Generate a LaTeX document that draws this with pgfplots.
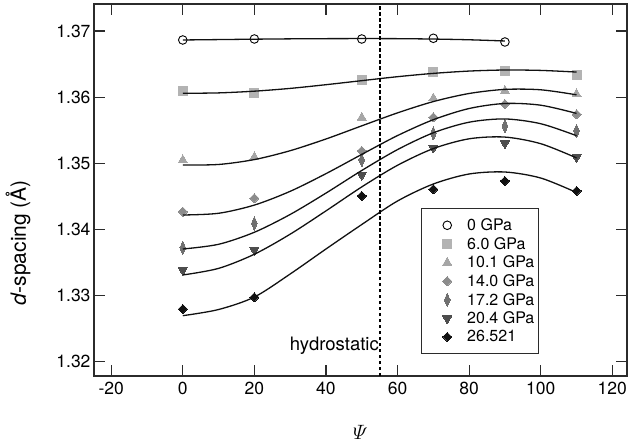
\documentclass[border=0pt]{standalone}
\usepackage{fontspec}
\setmainfont{TeX Gyre Heros}
\usepackage{pgfplots}
\pgfplotsset{compat=1.18}
\definecolor{axcol}{HTML}{2B2B2B}
\definecolor{sqgray}{HTML}{B3B3B3}
\definecolor{trigray}{HTML}{A6A6A6}
\definecolor{diagray}{HTML}{8C8C8C}
\definecolor{thingray}{HTML}{707070}
\definecolor{dtrigray}{HTML}{4D4D4D}
\definecolor{blk}{HTML}{111111}
\begin{document}
\begin{tikzpicture}
\useasboundingbox (0pt,0pt) rectangle (628pt,447pt);
\begin{axis}[
  at={(94pt,71pt)}, anchor=south west,
  scale only axis, width=533pt, height=372pt,
  clip mode=individual,
  xmin=-24.8, xmax=124.1, ymin=1.31784, ymax=1.37408,
  xtick={-20,0,20,40,60,80,100,120},
  ytick={1.32,1.33,1.34,1.35,1.36,1.37},
  tick align=inside, major tick length=11pt,
  axis line style={draw=axcol, line width=1.2pt},
  tick style={draw=axcol, line width=1.1pt},
  tick label style={font=\fontsize{17.5}{18}\selectfont, text=black},
  /pgf/number format/assume math mode=true,
  yticklabel style={/pgf/number format/.cd, fixed, fixed zerofill, precision=2},
  xticklabel style={yshift=-3pt},
  legend cell align=left,
  legend image code/.code={\path[draw=none,fill=none] (0pt,-1pt) rectangle (31.7pt,1pt);
    \path[#1, draw=none, fill=none] plot[only marks] coordinates {(21.7pt,0pt)};},
  legend style={at={(0.6135,0.4516)}, anchor=north west, draw=axcol, line width=1.1pt, fill=white,
    inner xsep=4pt, inner ysep=10pt, row sep=5.2pt, column sep=10pt,
    nodes={inner sep=0pt}, font=\fontsize{16}{16}\selectfont},
]
% markers
\addplot[only marks, mark=o, mark size=4.3pt, mark options={draw=black, line width=0.9pt, fill=none}]
  coordinates {(0,1.368639) (20,1.368790) (50,1.368790) (70,1.368896) (90,1.368337)};
\addlegendentry{0 GPa}
\addplot[only marks, mark=square*, mark size=4.5pt, mark options={draw=sqgray, fill=sqgray, line width=0pt}]
  coordinates {(0,1.360974) (20,1.360671) (50,1.362592) (70,1.363846) (90,1.363952) (110,1.363347)};
\addlegendentry{6.0 GPa}
\addplot[only marks, mark=triangle*, mark size=5.2pt, mark options={draw=trigray, fill=trigray, line width=0pt}]
  coordinates {(0,1.350496) (20,1.350950) (50,1.356922) (70,1.359825) (90,1.360974) (110,1.360475)};
\addlegendentry{10.1 GPa}
\addplot[only marks, mark=square*, mark size=3.2pt, mark options={rotate=45, draw=diagray, fill=diagray, line width=0pt}]
  coordinates {(0,1.342679) (20,1.344705) (50,1.351857) (70,1.356952) (90,1.358963) (110,1.357406)};
\addlegendentry{14.0 GPa}
\addplot[only marks, mark=diamond*, mark size=6.7pt, mark options={xscale=0.56, draw=thingray, fill=thingray, line width=0pt}]
  coordinates {(0,1.337236) (20,1.340925) (50,1.350496) (70,1.354533) (90,1.355636) (110,1.354881)};
\addlegendentry{17.2 GPa}
\addplot[only marks, mark=triangle*, mark size=5.2pt, mark options={rotate=180, draw=dtrigray, fill=dtrigray, line width=0pt}]
  coordinates {(0,1.333865) (20,1.336888) (50,1.348228) (70,1.352356) (90,1.353021) (110,1.350904)};
\addlegendentry{20.4 GPa}
\addplot[only marks, mark=square*, mark size=3.2pt, mark options={rotate=45, draw=blk, fill=blk, line width=0pt}]
  coordinates {(0,1.327968) (20,1.329737) (50,1.345053) (70,1.346066) (90,1.347321) (110,1.345809)};
\addlegendentry{26.521}
% fitted curves
\addplot[forget plot, smooth, no marks, color=blk, line width=1.3pt]
  coordinates {(0,1.36864)(10,1.36870)(20,1.36876)(30,1.36881)(40,1.36884)(50,1.36885)(60,1.36884)(70,1.36878)(80,1.36867)(90,1.36849)};
\addplot[forget plot, smooth, no marks, color=blk, line width=1.3pt]
  coordinates {(0,1.36058)(10,1.36064)(20,1.36090)(30,1.36132)(40,1.36188)(50,1.36249)(60,1.36309)(70,1.36359)(80,1.36394)(90,1.36410)(100,1.36404)(110,1.36379)};
\addplot[forget plot, smooth, no marks, color=blk, line width=1.3pt]
  coordinates {(0,1.34974)(10,1.34982)(20,1.35056)(30,1.35190)(40,1.35367)(50,1.35566)(60,1.35762)(70,1.35933)(80,1.36055)(90,1.36117)(100,1.36111)(110,1.36035)};
\addplot[forget plot, smooth, no marks, color=blk, line width=1.3pt]
  coordinates {(0,1.34218)(10,1.34244)(20,1.34368)(30,1.34576)(40,1.34843)(50,1.35134)(60,1.35419)(70,1.35659)(80,1.35828)(90,1.35904)(100,1.35878)(110,1.35754)};
\addplot[forget plot, smooth, no marks, color=blk, line width=1.3pt]
  coordinates {(0,1.33704)(10,1.33775)(20,1.33957)(30,1.34226)(40,1.34549)(50,1.34891)(60,1.35207)(70,1.35461)(80,1.35621)(90,1.35670)(100,1.35598)(110,1.35417)};
\addplot[forget plot, smooth, no marks, color=blk, line width=1.3pt]
  coordinates {(0,1.33311)(10,1.33411)(20,1.33625)(30,1.33928)(40,1.34280)(50,1.34643)(60,1.34970)(70,1.35222)(80,1.35370)(90,1.35396)(100,1.35296)(110,1.35081)};
\addplot[forget plot, smooth, no marks, color=blk, line width=1.3pt]
  coordinates {(0,1.32696)(10,1.32789)(20,1.32978)(30,1.33326)(40,1.33704)(50,1.34074)(60,1.34430)(70,1.34687)(80,1.34838)(90,1.34868)(100,1.34777)(110,1.34558)};
% hydrostatic line
\addplot[forget plot, no marks, color=black, line width=1.8pt, dash pattern=on 3.5pt off 2.5pt]
  coordinates {(55,1.31784) (55,1.37408)};
\node[anchor=base east, font=\fontsize{18.5}{19}\selectfont] at (axis cs:55.75,1.32162) {hydrostatic};
\node[rotate=90, anchor=center, font=\fontsize{21}{21}\selectfont] at (rel axis cs:-0.1426,0.3575) {\textit{d}-spacing (Å)};
\node[anchor=center, font=\fontsize{20}{20}\selectfont] at (rel axis cs:0.5,-0.1505) {$\mathnormal{\Psi}$};
\end{axis}
\end{tikzpicture}
\end{document}
